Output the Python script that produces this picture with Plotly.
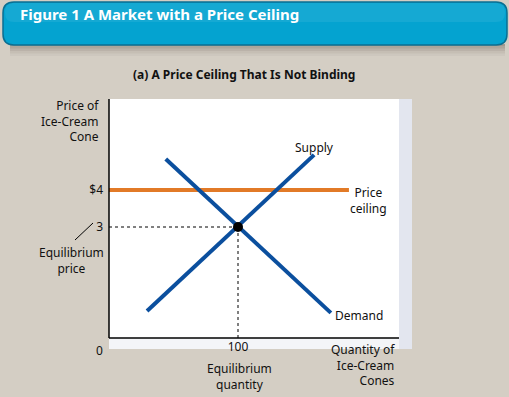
import plotly.graph_objects as go

# ---- data ----
supply_q = [29.5, 159]
supply_p = [0.73, 4.95]
demand_q = [44, 172]
demand_p = [4.84, 0.68]
ceiling_q = [0, 186]
ceiling_p = [4, 4]
eq_q = 100
eq_p = 3
y_tickvals = [3, 4]
y_ticktext = ["3", "$4"]
x_tickvals = [100]
x_ticktext = ["100"]

W, H = 509, 397
L, R, T, B = 109, 399, 99, 338
BG = "#d4cec4"
FONT = "Noto Sans"

def X(px):
    return (px - L) / (R - L)

def Y(py):
    return (B - py) / (B - T)

fig = go.Figure()

fig.add_trace(go.Scatter(x=[0, eq_q], y=[eq_p, eq_p], mode="lines",
                         line=dict(color="black", width=1, dash="dot"), hoverinfo="skip"))
fig.add_trace(go.Scatter(x=[eq_q, eq_q], y=[0, eq_p], mode="lines",
                         line=dict(color="black", width=1, dash="dot"), hoverinfo="skip"))
fig.add_trace(go.Scatter(x=ceiling_q, y=ceiling_p, mode="lines",
                         line=dict(color="#e27a27", width=4), hoverinfo="skip"))
fig.add_trace(go.Scatter(x=supply_q, y=supply_p, mode="lines",
                         line=dict(color="#0b4f9e", width=4), hoverinfo="skip"))
fig.add_trace(go.Scatter(x=demand_q, y=demand_p, mode="lines",
                         line=dict(color="#0b4f9e", width=4), hoverinfo="skip"))
fig.add_trace(go.Scatter(x=[eq_q], y=[eq_p], mode="markers",
                         marker=dict(color="black", size=10), hoverinfo="skip"))

shapes = []
# banner shadow
for i, a in enumerate([0.10, 0.10, 0.08, 0.06, 0.04]):
    shapes.append(dict(type="rect", xref="paper", yref="paper",
                       x0=X(10), x1=X(505), y0=Y(46 + i * 2.5), y1=Y(44),
                       fillcolor=f"rgba(60,50,40,{a})", line=dict(width=0), layer="below"))
# banner rounded rectangle
def rounded(x0, x1, y0, y1, r):
    return (f"M {X(x0 + r)} {Y(y0)} L {X(x1 - r)} {Y(y0)} "
            f"Q {X(x1)} {Y(y0)} {X(x1)} {Y(y0 + r)} L {X(x1)} {Y(y1 - r)} "
            f"Q {X(x1)} {Y(y1)} {X(x1 - r)} {Y(y1)} L {X(x0 + r)} {Y(y1)} "
            f"Q {X(x0)} {Y(y1)} {X(x0)} {Y(y1 - r)} L {X(x0)} {Y(y0 + r)} "
            f"Q {X(x0)} {Y(y0)} {X(x0 + r)} {Y(y0)} Z")
shapes.append(dict(type="path", xref="paper", yref="paper", path=rounded(3, 507, 2, 45, 11),
                   fillcolor="#04a3d0", line=dict(color="#0a6f92", width=1.5), layer="below"))
shapes.append(dict(type="path", xref="paper", yref="paper", path=rounded(5, 505, 3, 22, 9),
                   fillcolor="rgba(255,255,255,0.07)", line=dict(width=0), layer="below"))
# panel
shapes.append(dict(type="rect", xref="paper", yref="paper",
                   x0=X(109), x1=X(412), y0=Y(349), y1=Y(99),
                   fillcolor="#f4f5f8", line=dict(width=0), layer="below"))
shapes.append(dict(type="rect", xref="paper", yref="paper",
                   x0=X(109), x1=X(399), y0=Y(338), y1=Y(99),
                   fillcolor="white", line=dict(width=0), layer="below"))
shapes.append(dict(type="rect", xref="paper", yref="paper",
                   x0=X(399), x1=X(412), y0=Y(349), y1=Y(99),
                   fillcolor="#e3e6ef", line=dict(width=0), layer="below"))
# axes
shapes.append(dict(type="line", xref="paper", yref="paper",
                   x0=X(109), x1=X(109), y0=Y(338), y1=Y(99),
                   line=dict(color="black", width=1.5)))
shapes.append(dict(type="line", xref="paper", yref="paper",
                   x0=X(109), x1=X(399), y0=Y(338), y1=Y(338),
                   line=dict(color="black", width=1.5)))
# leader line from "3" to Equilibrium price
shapes.append(dict(type="line", xref="paper", yref="paper",
                   x0=X(93), x1=X(75), y0=Y(223), y1=Y(240),
                   line=dict(color="black", width=1)))

def ann(text, px, py, xanchor="center", size=12, color="#111", bold=False, align="center"):
    return dict(text=f"<b>{text}</b>" if bold else text, xref="paper", yref="paper",
                x=X(px), y=Y(py), xanchor=xanchor, yanchor="middle", showarrow=False,
                align=align, font=dict(family=FONT, size=size, color=color))

annotations = [
    ann("Figure 1 A Market with a Price Ceiling", 18, 14, xanchor="left", size=15,
        color="white", bold=True),
    ann("(a) A Price Ceiling That Is Not Binding", 244, 75, size=12, bold=True),
    ann("Price of<br>Ice-Cream<br>Cone", 101, 121, xanchor="right", align="right"),
    ann("Equilibrium<br>price", 71, 260),
    ann("0", 99, 350),
    ann("Equilibrium<br>quantity", 239, 376),
    ann("Quantity of<br>Ice-Cream<br>Cones", 397, 365, xanchor="right", align="right"),
    ann("Supply", 314, 147),
    ann("Price<br>ceiling", 368, 200),
    ann("Demand", 333, 315, xanchor="left"),
]

fig.update_layout(
    width=W, height=H,
    margin=dict(l=L, r=W - R, t=T, b=H - B),
    paper_bgcolor=BG, plot_bgcolor="rgba(0,0,0,0)",
    showlegend=False, hovermode=False,
    shapes=shapes, annotations=annotations,
    font=dict(family=FONT, size=12, color="#111"),
    xaxis=dict(range=[0, (R - L) / 1.29], showgrid=False, zeroline=False, showline=False,
               tickvals=x_tickvals, ticktext=x_ticktext, ticks="", fixedrange=True,
               tickfont=dict(family=FONT, size=12, color="#111")),
    yaxis=dict(range=[0, (B - T) / 37], showgrid=False, zeroline=False, showline=False,
               tickvals=y_tickvals, ticktext=y_ticktext, ticks="", ticklabelstandoff=5,
               fixedrange=True, tickfont=dict(family=FONT, size=12, color="#111")),
)

fig.write_html("out.html", config={"displayModeBar": False},
               post_script="document.body.style.margin='0';document.body.style.overflow='hidden';")
